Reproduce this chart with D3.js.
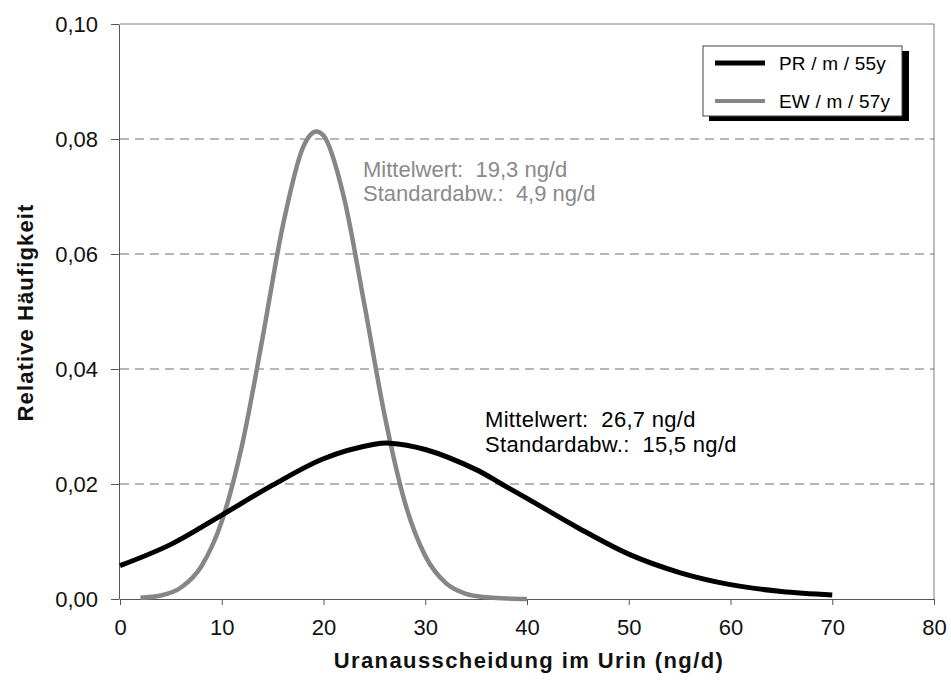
<!DOCTYPE html>
<html>
<head>
<meta charset="utf-8">
<script src="https://cdn.jsdelivr.net/npm/d3@7/dist/d3.min.js"></script>
<style>
  html, body { margin: 0; padding: 0; background: #fff; }
  svg { display: block; font-family: "Liberation Sans", Arial, sans-serif; }
</style>
</head>
<body>
<svg id="chart" width="951" height="681"></svg>
<script>
// Uranausscheidung – Häufigkeitsverteilungen zweier Personen
const xTicks = [0, 10, 20, 30, 40, 50, 60, 70, 80];
const yTicks = [0, 0.02, 0.04, 0.06, 0.08, 0.10];

// PR / m / 55y
const prX = [0, 5, 10, 15, 20, 25, 26.5, 30, 35, 37.5, 40, 45, 50, 55, 60, 65, 70];
const prY = [0.0058, 0.0095, 0.0146, 0.0198, 0.0244, 0.0269, 0.0271, 0.0260, 0.0225, 0.0200, 0.0175, 0.0124, 0.0078, 0.0046, 0.0025, 0.0013, 0.0007];

// EW / m / 57y
const ewX = [2, 4, 6, 8, 10, 12, 14, 16, 18, 19.3, 20, 22, 24, 26, 28, 30, 32, 34, 36, 38, 40];
const ewY = [0.0002, 0.0006, 0.0020, 0.0057, 0.0135, 0.0268, 0.0453, 0.0649, 0.0786, 0.0813, 0.0806, 0.0699, 0.0514, 0.0320, 0.0168, 0.0075, 0.0028, 0.0009, 0.0003, 0.0001, 0.0000];

const seriesNames = ["PR / m / 55y", "EW / m / 57y"];
const prNote = ["Mittelwert:  26,7 ng/d", "Standardabw.:  15,5 ng/d"];
const ewNote = ["Mittelwert:  19,3 ng/d", "Standardabw.:  4,9 ng/d"];
const xTitle = "Uranausscheidung im Urin (ng/d)";
const yTitle = "Relative Häufigkeit";

const svg = d3.select("#chart");
const plotL = 120, plotR = 934, plotT = 24, plotB = 599;

const x = d3.scaleLinear().domain([0, 80]).range([plotL, plotR]);
const y = d3.scaleLinear().domain([0, 0.10]).range([plotB, plotT]);

const de = d3.formatLocale({ decimal: ",", thousands: ".", grouping: [3], currency: ["", " €"] });
const fmtY = de.format(".2f");

// dashed horizontal grid
svg.append("g")
  .selectAll("line")
  .data(yTicks.filter(d => d > 0 && d < 0.10))
  .join("line")
  .attr("x1", plotL).attr("x2", plotR)
  .attr("y1", d => y(d)).attr("y2", d => y(d))
  .attr("stroke", "#6e6e6e")
  .attr("stroke-width", 1)
  .attr("stroke-dasharray", "9,6");

// frame top and right
svg.append("line").attr("x1", plotL).attr("x2", plotR).attr("y1", y(0.10)).attr("y2", y(0.10))
  .attr("stroke", "#7a7a7a").attr("stroke-width", 1);
svg.append("line").attr("x1", plotR).attr("x2", plotR).attr("y1", plotT).attr("y2", plotB)
  .attr("stroke", "#7a7a7a").attr("stroke-width", 1);

// axes
const xAxis = d3.axisBottom(x).tickValues(xTicks).tickSize(6).tickSizeOuter(0).tickPadding(14);
const gx = svg.append("g").attr("transform", `translate(0,${plotB})`).call(xAxis);
gx.select(".domain").attr("stroke", "#555");
gx.selectAll(".tick line").attr("stroke", "#555");
gx.selectAll("text").attr("font-size", 22).attr("fill", "#111")
  .attr("font-family", "'Liberation Sans', Arial, sans-serif");

const yAxis = d3.axisLeft(y).tickValues(yTicks).tickFormat(fmtY).tickSize(8).tickSizeOuter(0).tickPadding(13);
const gy = svg.append("g").attr("transform", `translate(${plotL - 1},0)`).call(yAxis);
gy.select(".domain").attr("stroke", "#555");
gy.selectAll(".tick line").attr("stroke", "#555");
gy.selectAll("text").attr("font-size", 22).attr("fill", "#111")
  .attr("font-family", "'Liberation Sans', Arial, sans-serif");

// curves
const lineEW = d3.line()
  .x(d => x(d[0]))
  .y(d => y(d[1]))
  .curve(d3.curveMonotoneX);
const linePR = d3.line()
  .x(d => x(d[0]))
  .y(d => y(d[1]))
  .curve(d3.curveCatmullRom.alpha(0.5));

svg.append("path")
  .datum(ewX.map((v, i) => [v, ewY[i]]))
  .attr("d", lineEW)
  .attr("fill", "none")
  .attr("stroke", "#868686")
  .attr("stroke-width", 4.5);

svg.append("path")
  .datum(prX.map((v, i) => [v, prY[i]]))
  .attr("d", linePR)
  .attr("fill", "none")
  .attr("stroke", "#000")
  .attr("stroke-width", 5);

// annotations
const noteFont = 22;
svg.append("g").selectAll("text").data(ewNote).join("text")
  .attr("x", 363).attr("y", (d, i) => 177 + i * 24)
  .attr("font-size", noteFont).attr("fill", "#8a8a8a")
  .style("white-space", "pre").attr("xml:space", "preserve")
  .text(d => d);

svg.append("g").selectAll("text").data(prNote).join("text")
  .attr("x", 485).attr("y", (d, i) => 427 + i * 25)
  .attr("font-size", noteFont).attr("fill", "#000")
  .attr("letter-spacing", 0.3)
  .style("white-space", "pre").attr("xml:space", "preserve")
  .text(d => d);

// axis titles
svg.append("text")
  .attr("x", (plotL + plotR) / 2 + 2).attr("y", 668)
  .attr("text-anchor", "middle")
  .attr("font-size", 22).attr("font-weight", "bold").attr("letter-spacing", 1.4)
  .attr("fill", "#111")
  .text(xTitle);

svg.append("text")
  .attr("transform", `translate(33,${(plotT + plotB) / 2 + 1}) rotate(-90)`)
  .attr("text-anchor", "middle")
  .attr("font-size", 22).attr("font-weight", "bold").attr("letter-spacing", 1.1)
  .attr("fill", "#111")
  .text(yTitle);

// legend
const lg = svg.append("g");
lg.append("rect").attr("x", 709).attr("y", 51).attr("width", 200).attr("height", 70).attr("fill", "#000");
lg.append("rect").attr("x", 703).attr("y", 46).attr("width", 199).attr("height", 70)
  .attr("fill", "#fff").attr("stroke", "#444").attr("stroke-width", 1);

const legendRows = [
  { name: seriesNames[0], color: "#000", width: 5, yy: 63 },
  { name: seriesNames[1], color: "#868686", width: 4, yy: 101 }
];
legendRows.forEach(r => {
  lg.append("line").attr("x1", 715).attr("x2", 765).attr("y1", r.yy).attr("y2", r.yy)
    .attr("stroke", r.color).attr("stroke-width", r.width);
  lg.append("text").attr("x", 779).attr("y", r.yy + 7)
    .attr("font-size", 19).attr("letter-spacing", 0.2).attr("fill", "#000")
    .text(r.name);
});
</script>
</body>
</html>
